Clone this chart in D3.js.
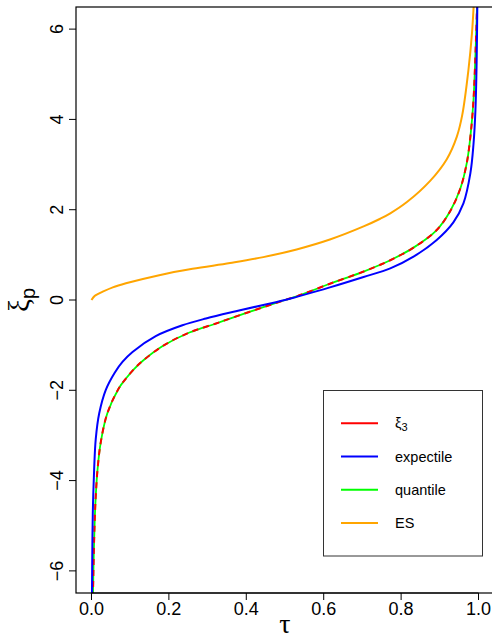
<!DOCTYPE html>
<html lang="en">
<head>
    <meta charset="UTF-8">
    <title>xi_p vs tau</title>
    <script src="https://d3js.org/d3.v7.min.js"></script>
    <style>
        body { margin: 0; background: #fff; }
        svg { display: block; font-family: "Liberation Sans", Arial, sans-serif; }
        .tick-label { font-size: 18px; fill: #000; }
        .leg-text { font-size: 14.5px; fill: #000; }
    </style>
</head>
<body>
<svg width="492" height="638"></svg>
<script>
    // values (tau, value)
    const quantileTau = [0.0037, 0.006, 0.0085, 0.011, 0.0155, 0.024, 0.041, 0.071, 0.089, 0.110, 0.132, 0.184, 0.253, 0.322, 0.365, 0.444, 0.5, 0.53, 0.616, 0.703, 0.746, 0.772, 0.832, 0.892, 0.927, 0.953, 0.970, 0.980, 0.987, 0.994, 0.9965];
    const quantileVal = [-6.6, -5.6, -4.85, -4.35, -3.77, -3.15, -2.51, -1.95, -1.74, -1.53, -1.35, -1.02, -0.72, -0.52, -0.39, -0.16, 0.0, 0.08, 0.36, 0.63, 0.78, 0.88, 1.16, 1.55, 1.97, 2.47, 3.05, 3.70, 4.43, 5.91, 6.6];

    const xi3Tau = quantileTau.slice();
    const xi3Val = [-6.6, -5.6, -4.85, -4.35, -3.77, -3.15, -2.51, -1.95, -1.74, -1.53, -1.35, -1.02, -0.72, -0.52, -0.39, -0.16, 0.0, 0.08, 0.36, 0.63, 0.78, 0.88, 1.16, 1.55, 1.97, 2.47, 3.05, 3.70, 4.43, 5.91, 6.6];

    const expectileTau = [0.0012, 0.0025, 0.004, 0.0068, 0.011, 0.020, 0.037, 0.060, 0.080, 0.106, 0.166, 0.235, 0.296, 0.373, 0.444, 0.5, 0.53, 0.616, 0.703, 0.772, 0.832, 0.892, 0.935, 0.961, 0.979, 0.987, 0.992, 0.995, 0.997];
    const expectileVal = [-6.6, -5.24, -4.50, -3.77, -3.08, -2.51, -1.99, -1.61, -1.37, -1.15, -0.80, -0.56, -0.41, -0.25, -0.11, 0.0, 0.07, 0.28, 0.51, 0.70, 0.96, 1.33, 1.72, 2.14, 2.81, 3.45, 4.2, 5.2, 6.6];

    const esTau = [0.0, 0.008, 0.016, 0.028, 0.055, 0.089, 0.175, 0.261, 0.358, 0.444, 0.530, 0.616, 0.703, 0.746, 0.772, 0.815, 0.875, 0.918, 0.944, 0.958, 0.974, 0.983, 0.988];
    const esVal = [0.0, 0.09, 0.13, 0.18, 0.28, 0.37, 0.55, 0.69, 0.82, 0.95, 1.12, 1.34, 1.63, 1.80, 1.92, 2.17, 2.64, 3.12, 3.62, 4.10, 5.10, 5.90, 6.6];

    const xTicks = [0, 0.2, 0.4, 0.6, 0.8, 1.0];
    const yTicks = [-6, -4, -2, 0, 2, 4, 6];
    const legendNames = ["ξ", "expectile", "quantile", "ES"];
    const legendColors = ["#ff0000", "#0000ff", "#00ff00", "#ffa500"];

    const width = 492, height = 638, margin = {top: 7, right: -2, bottom: 45, left: 76};
    const svg = d3.select("svg");

    const x = d3.scaleLinear().domain([-0.04, 1.04]).range([margin.left, width - margin.right]);
    const y = d3.scaleLinear().domain([-6.49, 6.49]).range([height - margin.bottom, margin.top]);

    svg.append("clipPath").attr("id", "plotclip")
        .append("rect")
        .attr("x", x(-0.04)).attr("y", y(6.49))
        .attr("width", x(1.04) - x(-0.04)).attr("height", y(-6.49) - y(6.49));

    const line = d3.line().x(d => x(d[0])).y(d => y(d[1])).curve(d3.curveCatmullRom.alpha(0.5));
    const plot = svg.append("g").attr("clip-path", "url(#plotclip)");

    const series = [
        {t: quantileTau, v: quantileVal, color: "#00ff00", w: 1.8, dash: null},
        {t: xi3Tau, v: xi3Val, color: "#ff0000", w: 2, dash: "6,5"},
        {t: expectileTau, v: expectileVal, color: "#0000ff", w: 2, dash: null},
        {t: esTau, v: esVal, color: "#ffa500", w: 2, dash: null}
    ];
    series.forEach(s => {
        plot.append("path")
            .datum(d3.zip(s.t, s.v))
            .attr("fill", "none")
            .attr("stroke", s.color)
            .attr("stroke-width", s.w)
            .attr("stroke-dasharray", s.dash)
            .attr("d", line);
    });

    // box
    svg.append("rect")
        .attr("x", x(-0.04)).attr("y", y(6.49))
        .attr("width", x(1.04) - x(-0.04)).attr("height", y(-6.49) - y(6.49))
        .attr("fill", "none").attr("stroke", "#000").attr("stroke-width", 1.2);

    // x axis
    const xAxis = svg.append("g");
    xAxis.append("line")
        .attr("x1", x(0)).attr("x2", x(1)).attr("y1", y(-6.49)).attr("y2", y(-6.49))
        .attr("stroke", "#000").attr("stroke-width", 1.2);
    xAxis.selectAll("line.tk").data(xTicks).enter().append("line")
        .attr("class", "tk")
        .attr("x1", d => x(d)).attr("x2", d => x(d))
        .attr("y1", y(-6.49)).attr("y2", y(-6.49) + 7)
        .attr("stroke", "#000");
    xAxis.selectAll("text").data(xTicks).enter().append("text")
        .attr("class", "tick-label")
        .attr("x", d => x(d)).attr("y", 615)
        .attr("text-anchor", "middle")
        .text(d => d3.format(".1f")(d));

    // y axis
    const yAxis = svg.append("g");
    yAxis.selectAll("line").data(yTicks).enter().append("line")
        .attr("x1", x(-0.04) - 7).attr("x2", x(-0.04))
        .attr("y1", d => y(d)).attr("y2", d => y(d))
        .attr("stroke", "#000");
    yAxis.selectAll("text").data(yTicks).enter().append("text")
        .attr("class", "tick-label")
        .attr("transform", d => `translate(63,${y(d)}) rotate(-90)`)
        .attr("text-anchor", "middle")
        .text(d => d < 0 ? "\u2212" + Math.abs(d) : d);

    // axis titles
    svg.append("text")
        .attr("x", (x(-0.04) + x(1.04)) / 2).attr("y", 633)
        .attr("text-anchor", "middle")
        .style("font-family", "'Liberation Serif', 'DejaVu Serif', serif")
        .style("font-size", "28px")
        .text("τ");
    const ylab = svg.append("text")
        .attr("transform", `translate(29,${(y(6.49) + y(-6.49)) / 2}) rotate(-90)`)
        .attr("text-anchor", "middle")
        .style("font-family", "'Liberation Serif', 'DejaVu Serif', serif")
        .style("font-size", "29px");
    ylab.append("tspan").text("ξ");
    ylab.append("tspan").attr("dy", 6).style("font-size", "20px")
        .style("font-family", "'Liberation Sans', Arial, sans-serif").text("p");

    // legend
    const leg = svg.append("g");
    leg.append("rect")
        .attr("x", 323.5).attr("y", 390.5).attr("width", 159).attr("height", 165.5)
        .attr("fill", "#fff").attr("stroke", "#333").attr("stroke-width", 1);
    const rows = leg.selectAll("g.row").data(legendNames).enter().append("g")
        .attr("class", "row")
        .attr("transform", (d, i) => `translate(0,${423.3 + i * 33.2})`);
    rows.append("line")
        .attr("x1", 341).attr("x2", 378).attr("y1", 0).attr("y2", 0)
        .attr("stroke", (d, i) => legendColors[i]).attr("stroke-width", 2);
    rows.append("text")
        .attr("class", "leg-text")
        .attr("x", 395).attr("y", 5)
        .each(function(d, i) {
            const t = d3.select(this);
            t.append("tspan").text(d);
            if (i === 0) t.append("tspan").attr("dy", 3).style("font-size", "11px").text("3");
        });
</script>
</body>
</html>
